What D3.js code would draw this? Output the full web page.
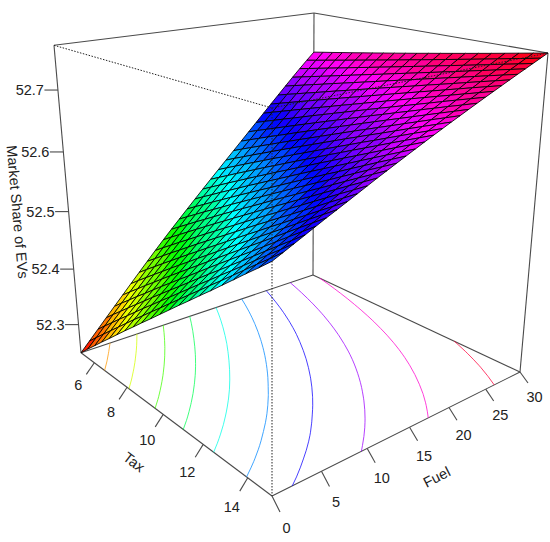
<!DOCTYPE html>
<html><head><meta charset="utf-8">
<script src="https://cdnjs.cloudflare.com/ajax/libs/d3/7.8.5/d3.min.js"></script>
<style>html,body{margin:0;background:#fff}svg{display:block}text{font-family:"Liberation Sans",Arial,sans-serif;fill:#222}</style>
</head><body><svg id="c" width="550" height="542"></svg>
<script>
const taxGrid=[5.13,5.62,6.12,6.61,7.11,7.60,8.09,8.59,9.08,9.58,10.07,10.56,11.05,11.55,12.04,12.54,13.03,13.52,14.01,14.51,15];
const fuelGrid=[0,1,2,3,4,5,6,7,8,9,10,11,12,13,14,15,16,17,18,19,20,21,22,23,24,25,26,27,28,29,30];
// Market share, as thousandths above 52; one row per fuel value, one column per tax value
const shareRows=[
[248,264.9,281.8,298.7,315.6,332.5,349.4,366.3,383.2,400.1,417,433.9,450.8,467.7,484.6,501.5,518.4,535.3,552.2,569.1,586],
[264,280.5,297.1,313.6,330.1,346.6,363.1,379.6,396,412.5,429,445.4,461.8,478.3,494.7,511.1,527.5,543.9,560.3,576.6,593],
[280.3,296.5,312.6,328.7,344.8,360.9,377,393,409,425.1,441.1,457,473,488.9,504.9,520.8,536.6,552.5,568.4,584.2,600],
[296.5,312.3,328,343.7,359.4,375.1,390.7,406.4,422,437.5,453.1,468.6,484.1,499.5,514.9,530.4,545.7,561.1,576.4,591.7,607],
[312.7,328.1,343.4,358.8,374,389.3,404.5,419.7,434.8,449.9,465,480.1,495.1,510.1,525,539.9,554.8,569.7,584.5,599.3,614],
[328.8,343.8,358.7,373.7,388.5,403.4,418.1,432.9,447.6,462.3,476.9,491.5,506,520.6,535,549.5,563.8,578.2,592.5,606.8,621],
[345,359.6,374.1,388.6,403,417.4,431.7,446,460.3,474.5,488.6,502.7,516.8,530.8,544.8,558.7,572.6,586.4,600.2,613.9,627.6],
[361,375.2,389.3,403.3,417.3,431.3,445.2,459,472.8,486.5,500.2,513.9,527.4,541,554.5,567.9,581.3,594.6,607.9,621.1,634.3],
[377,390.7,404.4,418,431.6,445.1,458.6,472,485.3,498.6,511.8,525,538.1,551.2,564.2,577.1,590,602.8,615.6,628.3,641],
[392.8,406.1,419.4,432.6,445.7,458.8,471.8,484.8,497.7,510.5,523.3,536,548.6,561.2,573.8,586.3,598.7,611,623.3,635.5,647.7],
[408.4,421.3,434.2,446.9,459.7,472.3,484.9,497.4,509.9,522.3,534.6,546.9,559.1,571.2,583.3,595.3,607.3,619.1,631,642.7,654.4],
[423.6,436.1,448.5,460.9,473.2,485.4,497.6,509.7,521.7,533.6,545.5,557.4,569.1,580.8,592.4,604,615.5,626.9,638.3,649.6,660.8],
[438.6,450.7,462.7,474.7,486.5,498.3,510.1,521.8,533.4,544.9,556.4,567.8,579.1,590.3,601.5,612.6,623.7,634.7,645.6,656.4,667.2],
[453.5,465.2,476.8,488.3,499.8,511.1,522.5,533.7,544.9,556,567,578,588.9,599.7,610.5,621.1,631.8,642.3,652.8,663.2,673.5],
[468.3,479.6,490.7,501.9,512.9,523.9,534.8,545.6,556.3,567,577.6,588.2,598.6,609,619.4,629.6,639.8,649.9,659.9,669.9,679.8],
[483,493.8,504.6,515.3,525.9,536.5,546.9,557.3,567.7,577.9,588.1,598.2,608.3,618.2,628.1,638,647.7,657.4,667,676.5,686],
[497.6,508,518.3,528.6,538.8,548.9,559,568.9,578.8,588.7,598.4,608.1,617.7,627.3,636.8,646.2,655.5,664.8,673.9,683.1,692.1],
[512.1,522.1,532,541.8,551.6,561.2,570.9,580.4,589.9,599.3,608.6,617.9,627.1,636.2,645.3,654.2,663.2,672,680.8,689.5,698.1],
[526.6,536.1,545.6,555,564.3,573.5,582.7,591.8,600.9,609.9,618.8,627.6,636.4,645.1,653.7,662.2,670.7,679.2,687.5,695.8,704],
[541,550.1,559.1,568,576.9,585.7,594.4,603.1,611.7,620.3,628.7,637.1,645.5,653.8,662,670.1,678.2,686.2,694.1,702,709.8],
[555.5,564.1,572.7,581.2,589.6,597.9,606.2,614.5,622.6,630.7,638.8,646.7,654.6,662.5,670.3,678,685.6,693.2,700.7,708.2,715.6],
[570,578.1,586.2,594.2,602.2,610.1,617.9,625.7,633.4,641.1,648.7,656.2,663.7,671.1,678.5,685.8,693,700.2,707.3,714.3,721.3],
[584.5,592.2,599.8,607.3,614.8,622.2,629.6,636.9,644.2,651.4,658.6,665.7,672.7,679.7,686.6,693.5,700.3,707.1,713.8,720.4,727],
[599,606.2,613.3,620.3,627.4,634.3,641.2,648.1,654.9,661.6,668.3,675,681.6,688.1,694.6,701.1,707.5,713.8,720.1,726.3,732.5],
[613.4,620.1,626.7,633.3,639.8,646.3,652.7,659.1,665.5,671.8,678,684.2,690.4,696.5,702.6,708.6,714.6,720.5,726.4,732.2,738],
[627.8,634,640.1,646.2,652.2,658.2,664.2,670.1,676,681.9,687.7,693.4,699.1,704.8,710.5,716.1,721.6,727.2,732.7,738.1,743.5],
[642.1,647.8,653.4,659,664.5,670.1,675.5,681,686.4,691.8,697.2,702.5,707.8,713,718.3,723.5,728.6,733.7,738.8,743.9,748.9],
[656.3,661.4,666.6,671.6,676.7,681.8,686.8,691.8,696.7,701.6,706.6,711.4,716.3,721.1,725.9,730.7,735.5,740.2,744.9,749.6,754.2],
[670.2,674.8,679.5,684.1,688.6,693.2,697.8,702.3,706.8,711.3,715.8,720.2,724.6,729.1,733.5,737.9,742.2,746.6,750.9,755.2,759.5],
[683.8,687.9,692.1,696.2,700.3,704.4,708.5,712.6,716.6,720.7,724.8,728.8,732.8,736.9,740.9,744.9,748.9,752.9,756.9,760.8,764.8],
[697,700.7,704.3,708,711.6,715.3,718.9,722.6,726.2,729.9,733.5,737.2,740.8,744.5,748.1,751.8,755.4,759.1,762.7,766.4,770]];
const contourLevels=[52.3,52.35,52.4,52.45,52.5,52.55,52.6,52.65,52.7,52.75];
const taxTicks=[6,8,10,12,14];
const fuelTicks=[0,5,10,15,20,25,30];
const shareTicks=[52.3,52.4,52.5,52.6,52.7];
const taxTitle="Tax",fuelTitle="Fuel",shareTitle="Market Share of EVs";

const share=shareRows.map(r=>r.map(d=>52+d/1000));
const uScale=d3.scaleLinear([5.13,15],[0,1]);
const vScale=d3.scaleLinear([0,30],[0,1]);
const wScale=d3.scaleLinear([52.248,52.77],[0,1]);

// four-corner projective maps of the floor and the ceiling of the box
function quad(p0,p1,p2,p3){
  const dx1=p1[0]-p2[0],dx2=p3[0]-p2[0],sx=p0[0]-p1[0]+p2[0]-p3[0];
  const dy1=p1[1]-p2[1],dy2=p3[1]-p2[1],sy=p0[1]-p1[1]+p2[1]-p3[1];
  const den=dx1*dy2-dx2*dy1,g=(sx*dy2-dx2*sy)/den,h=(dx1*sy-sx*dy1)/den;
  return (u,v)=>{const w=1+g*u+h*v;return[
    (p0[0]+(p1[0]-p0[0]+g*p1[0])*u+(p3[0]-p0[0]+h*p3[0])*v)/w,
    (p0[1]+(p1[1]-p0[1]+g*p1[1])*u+(p3[1]-p0[1]+h*p3[1])*v)/w];};
}
const A=[81,352.7],B=[272,496],C=[520,372],D=[313,275];
const At=[54,45.3],Bt=[272,108],Ct=[548,53],Dt=[314,13];
const floorMap=quad(A,B,C,D),topMap=quad(At,Bt,Ct,Dt);
function project(u,v,w){
  const f=floorMap(u,v),t=topMap(u,v),k=1.1+0.1*u-0.02*v,s=w/(w+(1-w)*k);
  return[f[0]+(t[0]-f[0])*s,f[1]+(t[1]-f[1])*s];
}
const nodeU=taxGrid.map(uScale),nodeV=fuelGrid.map(vScale);
const hueOf=w=>d3.hsl(Math.min(w,0.999)*360,1,0.5).formatHex();
const bins=d3.scaleQuantize([0,1],d3.range(50).map(i=>hueOf(i/50)));

const svg=d3.select("#c");
svg.append("rect").attr("width",550).attr("height",542).attr("fill","#fff");
const line=d3.line();
const boxStroke="#4a4a4a";
const seg=(pts,dash)=>svg.append("path").attr("d",line(pts)).attr("fill","none")
  .attr("stroke",dash?"#222":boxStroke).attr("stroke-width",dash?1:1.1).attr("stroke-dasharray",dash?"1.5 1.5":null);

// solid box edges
[[A,At],[At,Dt],[Dt,Ct],[Ct,C],[C,D],[D,A],[A,B],[B,C],[D,Dt]].forEach(p=>seg(p));

// contours on the floor
const nx=taxGrid.length,ny=fuelGrid.length;
const colU=d3.scaleLinear([0.5,nx-0.5],[nodeU[0],nodeU[nx-1]]);
const rowV=d3.scaleLinear([0.5,ny-0.5],[nodeV[0],nodeV[ny-1]]);
const inside=p=>p[0]>=0.5&&p[0]<=nx-0.5&&p[1]>=0.5&&p[1]<=ny-0.5;
const contourMaker=d3.contours().size([nx,ny]).thresholds(contourLevels);
contourMaker(share.flat()).forEach(c=>{
  const path=[];
  c.coordinates.forEach(poly=>poly.forEach(ring=>{
    const pts=ring.slice(0,-1),n=pts.length;
    let start=pts.findIndex(p=>!inside(p));
    if(start<0)start=0;
    let run=[];
    for(let i=0;i<=n;i++){
      const p=pts[(start+i)%n];
      if(inside(p))run.push(p);
      else{if(run.length>1)path.push(run);run=[];}
    }
    if(run.length>1)path.push(run);
  }));
  path.forEach(run=>svg.append("path")
    .attr("d",line(run.map(p=>project(colU(p[0]),rowV(p[1]),0))))
    .attr("fill","none").attr("stroke",hueOf(wScale(c.value))).attr("stroke-width",1).attr("stroke-opacity",0.75));
});

// surface, painted far to near
const cellsG=svg.append("g");
for(let j=ny-2;j>=0;j--){
  for(let i=0;i<nx-1;i++){
    const zs=[share[j][i],share[j][i+1],share[j+1][i+1],share[j+1][i]];
    const pts=[project(nodeU[i],nodeV[j],wScale(zs[0])),project(nodeU[i+1],nodeV[j],wScale(zs[1])),
               project(nodeU[i+1],nodeV[j+1],wScale(zs[2])),project(nodeU[i],nodeV[j+1],wScale(zs[3]))];
    cellsG.append("path").attr("d",line(pts)+"Z")
      .attr("fill",bins(wScale(d3.mean(zs)))).attr("stroke","#000").attr("stroke-width",0.85)
      .attr("stroke-linejoin","round");
  }
}

// front edges of the box, dotted
[[At,Bt],[Bt,Ct],[Bt,B]].forEach(p=>seg(p,true));

// axes
const tickG=svg.append("g");
const tick=(p,dx,dy)=>tickG.append("line").attr("x1",p[0]).attr("y1",p[1]).attr("x2",p[0]+dx).attr("y2",p[1]+dy)
  .attr("stroke",boxStroke).attr("stroke-width",1.1);
const label=(x,y,t,anchor)=>svg.append("text").attr("x",x).attr("y",y).attr("text-anchor",anchor||"middle")
  .attr("dy","0.35em").attr("font-size",14.5).text(t);
fuelTicks.forEach(f=>{
  const v=vScale(f),p=project(1,v,0);
  tick(p,8,16-5*v);
  label(p[0]+14.5,p[1]+32-7*v,f);
});
taxTicks.forEach(t=>{
  const u=uScale(t),p=project(u,0,0);
  tick(p,-8,11.5+2*u);
  label(p[0]-16,p[1]+22+8*u,t);
});
shareTicks.forEach(z=>{
  const p=project(0,0,wScale(z));
  tick(p,-13.5,0);
  label(p[0]-14,p[1],z.toFixed(1),"end");
});
const title=(x,y,r,t)=>svg.append("text").attr("transform",`translate(${x},${y}) rotate(${r})`)
  .attr("text-anchor","middle").attr("dy","0.35em").attr("font-size",14.5).text(t);
title(134,462,37,taxTitle);
title(436.7,477,-27,fuelTitle);
title(17.5,212,85,shareTitle);
</script></body></html>
